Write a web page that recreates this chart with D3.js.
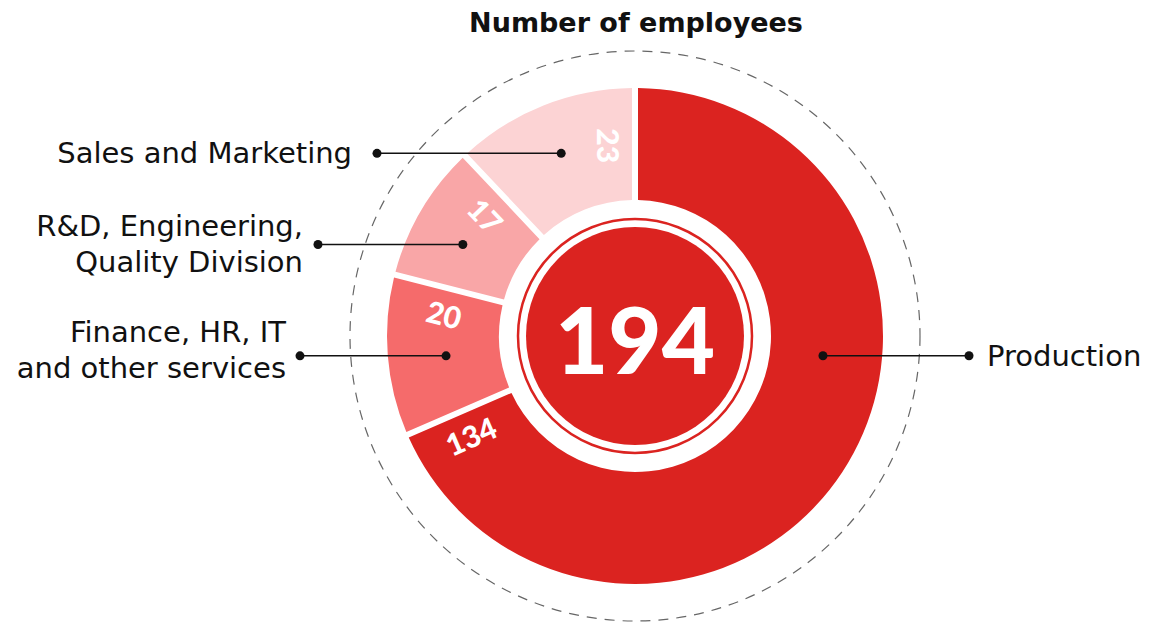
<!DOCTYPE html>
<html>
<head>
<meta charset="utf-8">
<script src="https://cdn.jsdelivr.net/npm/d3@7"></script>
<style>
html, body { margin: 0; padding: 0; background: #fff; }
svg { display: block; font-family: "DejaVu Sans", "Open Sans", sans-serif; }
</style>
</head>
<body>
<svg id="chart" width="1159" height="623"></svg>
<script>
// data
const categories = [
    ['Production'],
    ['Finance, HR, IT', 'and other services'],
    ['R&D, Engineering,', 'Quality Division'],
    ['Sales and Marketing']
];
const values = [134, 20, 17, 23];
const title = 'Number of employees';

const colors = ['#db2320', '#f56b6b', '#f9a6a7', '#fcd3d4'];

// layout
const cx = 635, cy = 336;
const rOuter = 248, rInner = 136, ringR = 117, diskR = 109, dashR = 285;
const gap = 6;
const calloutDeg = [96, 264, 298, 338];   // where the leader line meets each slice
const calloutR = [189, 190, 195, 197];
const dotX = [969, 300, 318, 377];        // outer end of each leader line
const textGap = [18, 14, 15, 25];
const textShift = [0, -6, 0, 0];

const svg = d3.select('#chart');
const g = svg.append('g').attr('transform', 'translate(' + cx + ',' + cy + ')');

const padR = Math.sqrt(rInner * rInner + rOuter * rOuter);
const pie = d3.pie().value(d => d).sort(null).padAngle(gap / padR);
const arc = d3.arc().innerRadius(rInner).outerRadius(rOuter);
const arcs = pie(values);

// dashed outer circle
g.append('circle')
    .attr('r', dashR)
    .attr('fill', 'none')
    .attr('stroke', '#666')
    .attr('stroke-width', 1.2)
    .attr('stroke-dasharray', '10 8');

g.selectAll('path.slice')
    .data(arcs)
    .enter()
    .append('path')
    .attr('class', 'slice')
    .attr('d', arc)
    .style('fill', (d, i) => colors[i]);

// centre disk with thin ring
g.append('circle')
    .attr('r', ringR)
    .attr('fill', 'none')
    .attr('stroke', colors[0])
    .attr('stroke-width', 2.5);
g.append('circle')
    .attr('r', diskR)
    .attr('fill', colors[0]);

g.append('text')
    .attr('text-anchor', 'middle')
    .attr('dominant-baseline', 'central')
    .attr('y', 2)
    .attr('fill', '#fff')
    .attr('font-family', 'Lato, sans-serif')
    .attr('font-size', 92)
    .attr('font-weight', 900)
    .text(d3.sum(values));

// value labels near the clockwise end of each slice, parallel to the gap
const labelR = 192, labelBack = 26;
g.selectAll('text.val')
    .data(arcs)
    .enter()
    .append('text')
    .attr('class', 'val')
    .attr('text-anchor', 'middle')
    .attr('dominant-baseline', 'central')
    .attr('fill', '#fff')
    .attr('font-family', 'Lato, sans-serif')
    .attr('font-size', 30)
    .attr('font-weight', 900)
    .attr('transform', d => {
        const a = d.endAngle - labelBack / labelR;
        const x = labelR * Math.sin(a), y = -labelR * Math.cos(a);
        const rot = d.endAngle * 180 / Math.PI - 270;
        return 'translate(' + x + ',' + y + ') rotate(' + rot + ')';
    })
    .text(d => d.data);

// leader lines
const callouts = arcs.map((d, i) => {
    const a = calloutDeg[i] * Math.PI / 180;
    return {
        i: i,
        x1: calloutR[i] * Math.sin(a),
        y: -calloutR[i] * Math.cos(a),
        x2: dotX[i] - cx,
        right: Math.sin(a) > 0
    };
});

const lead = g.selectAll('g.lead')
    .data(callouts)
    .enter()
    .append('g')
    .attr('class', 'lead');

lead.append('line')
    .attr('x1', d => d.x1)
    .attr('x2', d => d.x2)
    .attr('y1', d => d.y)
    .attr('y2', d => d.y)
    .attr('stroke', '#111')
    .attr('stroke-width', 1.5);
lead.append('circle')
    .attr('cx', d => d.x1).attr('cy', d => d.y).attr('r', 4.5).attr('fill', '#111');
lead.append('circle')
    .attr('cx', d => d.x2).attr('cy', d => d.y).attr('r', 4.5).attr('fill', '#111');

const lineH = 36;
lead.append('text')
    .attr('text-anchor', d => d.right ? 'start' : 'end')
    .attr('fill', '#111')
    .attr('font-size', 29)
    .each(function(d) {
        const lines = categories[d.i];
        const x = d.x2 + (d.right ? textGap[d.i] : -textGap[d.i]);
        const y0 = d.y + textShift[d.i] - (lines.length - 1) * lineH / 2;
        d3.select(this).selectAll('tspan')
            .data(lines)
            .enter()
            .append('tspan')
            .attr('x', x)
            .attr('y', (t, k) => y0 + k * lineH)
            .attr('dominant-baseline', 'central')
            .text(t => t);
    });

// title
svg.append('text')
    .attr('x', cx + 1)
    .attr('y', 22)
    .attr('text-anchor', 'middle')
    .attr('dominant-baseline', 'central')
    .attr('fill', '#111')
    .attr('font-size', 27)
    .attr('font-weight', 700)
    .text(title);
</script>
</body>
</html>
